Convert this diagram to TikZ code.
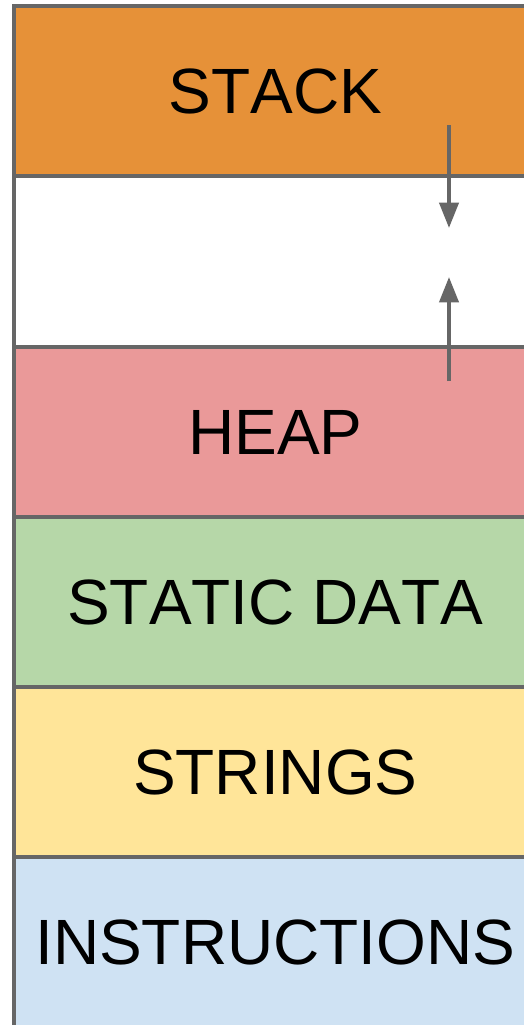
\documentclass[tikz,border=0pt]{standalone}
\usepackage{fontspec}
\setmainfont{Liberation Sans}[Kerning=Off]
\usetikzlibrary{arrows.meta}
\definecolor{stackc}{HTML}{E69138}
\definecolor{heapc}{HTML}{EA9999}
\definecolor{staticc}{HTML}{B6D7A8}
\definecolor{stringc}{HTML}{FFE599}
\definecolor{instrc}{HTML}{CFE2F3}
\definecolor{linec}{HTML}{666666}
\begin{document}
\begin{tikzpicture}[x=0.75pt,y=-0.75pt,
  band/.style={draw=none, inner sep=0pt, anchor=north west,
    minimum width=391.5pt, minimum height=#1,
    font=\fontsize{48}{58}\selectfont, text=black},
  border/.style={draw=linec, line width=3pt},
  growarrow/.style={draw=linec, line width=3pt,
    -{Triangle[width=14.25pt,length=19pt]}}]
\useasboundingbox (0,0) rectangle (524,1025);
\fill[white] (0,0) rectangle (524,1025);
\node[band=127.5pt, fill=stackc] (stack) at (14,6) {STACK};
\node[band=128.25pt, fill=white] (gap) at (14,176) {};
\node[band=127.5pt, fill=heapc] (heap) at (14,347) {HEAP};
\node[band=127.5pt, fill=staticc] (static) at (14,517) {STATIC DATA};
\node[band=127.5pt, fill=stringc] (strings) at (14,687) {STRINGS};
\node[band=127.5pt, fill=instrc] (instr) at (14,857) {INSTRUCTIONS};
\draw[border] (stack.north east) -- (stack.north west) -- (instr.south west);
\draw[border] (gap.north west) -- (gap.north east);
\draw[border] (heap.north west) -- (heap.north east);
\draw[border] (static.north west) -- (static.north east);
\draw[border] (strings.north west) -- (strings.north east);
\draw[border] (instr.north west) -- (instr.north east);
\coordinate (downstart) at (449,125);
\coordinate (downend) at (449,228);
\coordinate (upstart) at (449,381);
\coordinate (upend) at (449,277);
\draw[growarrow] (downstart) -- (downend);
\draw[growarrow] (upstart) -- (upend);
\end{tikzpicture}
\end{document}
